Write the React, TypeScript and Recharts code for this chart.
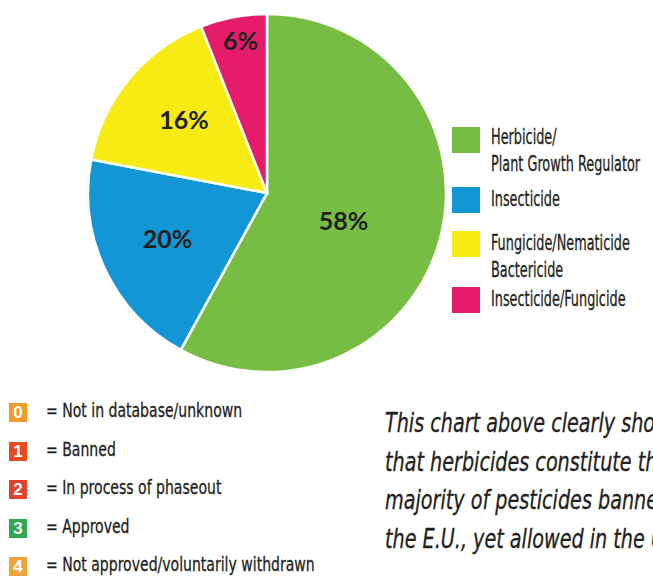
import React from 'react';
import { PieChart, Pie, Cell, Legend } from 'recharts';

// ---- data ----
const categories = [
  'Herbicide/\nPlant Growth Regulator',
  'Insecticide',
  'Fungicide/Nematicide\nBactericide',
  'Insecticide/Fungicide',
];
const shares = [58, 20, 16, 6];
const sliceColors = ['#77bd43', '#1396d5', '#f7eb14', '#e41c69'];

const statusCodes = ['0', '1', '2', '3', '4'];
const statusLabels = [
  '= Not in database/unknown',
  '= Banned',
  '= In process of phaseout',
  '= Approved',
  '= Not approved/voluntarily withdrawn',
];
const statusColors = ['#f39a2b', '#e8491d', '#e4412b', '#2fa84f', '#f0a33a'];

const noteLines = [
  'This chart above clearly shows',
  'that herbicides constitute the',
  'majority of pesticides banned in',
  'the E.U., yet allowed in the U.S.',
];

const pieData = categories.map((name, i) => ({ name, value: shares[i] }));

// ---- styling / layout ----
const NARROW = "'DejaVu Sans Condensed', 'DejaVu Sans', sans-serif";
const LABEL_RADII = [81, 109, 111, 155];
const LABEL_ANGLE_SHIFT = [-5, -1, -2, -1];
const LEGEND_TOPS = [0, 60, 104, 160];
const RADIAN = Math.PI / 180;

const renderLabel = (props: any) => {
  const { cx, cy, midAngle, index, value } = props;
  const r = LABEL_RADII[index];
  const a = (midAngle + LABEL_ANGLE_SHIFT[index]) * RADIAN;
  const x = cx + r * Math.cos(-a);
  const y = cy + r * Math.sin(-a);
  return (
    <text
      x={x}
      y={y}
      textAnchor="middle"
      dominantBaseline="central"
      fill="#231f20"
      style={{ fontFamily: 'Lato, sans-serif', fontWeight: 700, fontSize: 25 }}
    >
      {`${value}%`}
    </text>
  );
};

const renderLegend = (props: any) => {
  const payload = [...(props.payload || [])].sort(
    (a: any, b: any) => categories.indexOf(a.value) - categories.indexOf(b.value)
  );
  return (
    <div style={{ position: 'relative', width: 201, height: 200 }}>
      {payload.map((entry: any, i: number) => (
        <div
          key={i}
          style={{
            position: 'absolute',
            left: 0,
            top: LEGEND_TOPS[i],
            display: 'flex',
            alignItems: 'flex-start',
          }}
        >
          <div style={{ width: 28, height: 26, background: entry.color, marginRight: 11, flex: 'none' }} />
          <div
            style={{
              fontFamily: NARROW,
              fontSize: 21,
              lineHeight: '27px',
              color: '#231f20',
              marginTop: i === 0 ? -3 : -1,
              whiteSpace: 'pre',
              transform: 'scaleX(0.68)',
              transformOrigin: 'left top',
              WebkitTextStroke: '0.3px #231f20',
            }}
          >
            {String(entry.value)}
          </div>
        </div>
      ))}
    </div>
  );
};

export default function App() {
  return (
    <div
      style={{
        position: 'absolute',
        left: 0,
        top: 0,
        width: 653,
        height: 579,
        overflow: 'hidden',
        background: '#ffffff',
      }}
    >
      <PieChart width={653} height={579} margin={{ top: 0, right: 0, bottom: 0, left: 0 }}>
        <Pie
          data={pieData}
          dataKey="value"
          nameKey="name"
          cx={267}
          cy={193}
          outerRadius={179}
          startAngle={90}
          endAngle={-270}
          stroke="#ffffff"
          strokeWidth={2.5}
          label={renderLabel}
          labelLine={false}
          isAnimationActive={false}
        >
          {pieData.map((d, i) => (
            <Cell key={d.name} fill={sliceColors[i]} />
          ))}
        </Pie>
        <Legend
          content={renderLegend}
          wrapperStyle={{ position: 'absolute', left: 452, top: 127, width: 201, height: 200 }}
        />
      </PieChart>

      {statusCodes.map((code, i) => (
        <div key={code} style={{ position: 'absolute', left: 9, top: 403 + i * 38.6, display: 'flex', alignItems: 'flex-start' }}>
          <div
            style={{
              width: 18,
              height: 19,
              background: statusColors[i],
              color: '#ffffff',
              fontFamily: "'Liberation Sans', Arial, sans-serif",
              fontWeight: 700,
              fontSize: 17,
              lineHeight: '19px',
              textAlign: 'center',
              flex: 'none',
            }}
          >
            {code}
          </div>
          <div
            style={{
              marginLeft: 19,
              marginTop: -3,
              fontFamily: NARROW,
              fontSize: 20,
              lineHeight: '20px',
              color: '#231f20',
              whiteSpace: 'nowrap',
              transform: 'scaleX(0.78)',
              transformOrigin: 'left top',
              WebkitTextStroke: '0.3px #231f20',
            }}
          >
            {statusLabels[i]}
          </div>
        </div>
      ))}

      <div
        style={{
          position: 'absolute',
          left: 385,
          top: 404,
          fontFamily: NARROW,
          fontStyle: 'italic',
          fontSize: 26,
          lineHeight: '38.5px',
          color: '#231f20',
          whiteSpace: 'nowrap',
          transform: 'scaleX(0.82)',
          transformOrigin: 'left top',
          WebkitTextStroke: '0.3px #231f20',
        }}
      >
        {noteLines.map((l) => (
          <div key={l}>{l}</div>
        ))}
      </div>
    </div>
  );
}
